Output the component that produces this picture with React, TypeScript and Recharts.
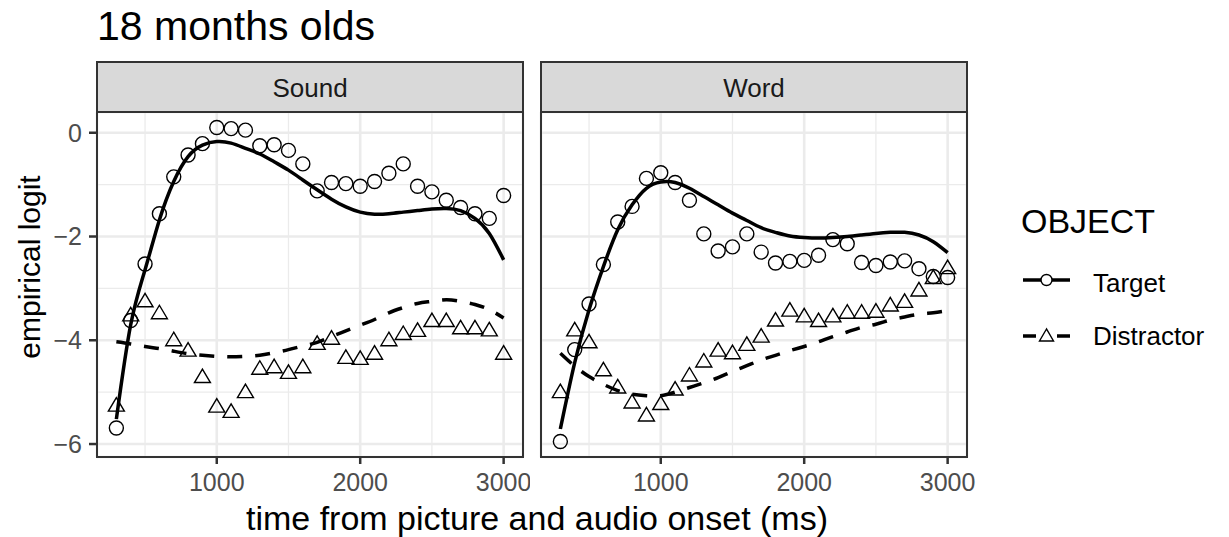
import React from 'react';
import { ComposedChart, Scatter, Line, XAxis, YAxis, CartesianGrid, ReferenceLine } from 'recharts';

const FONT = '"Liberation Sans", Arial, Helvetica, sans-serif';

// time points (ms)
const times = [300, 400, 500, 600, 700, 800, 900, 1000, 1100, 1200, 1300, 1400, 1500, 1600, 1700, 1800, 1900, 2000, 2100, 2200, 2300, 2400, 2500, 2600, 2700, 2800, 2900, 3000];

// Sound facet
const soundTarget = [-5.69, -3.62, -2.53, -1.56, -0.85, -0.43, -0.21, 0.1, 0.08, 0.05, -0.25, -0.23, -0.34, -0.6, -1.12, -0.96, -0.98, -1.03, -0.94, -0.78, -0.6, -1.03, -1.14, -1.3, -1.44, -1.56, -1.65, -1.21];
const soundDistractor = [-5.24, -3.5, -3.23, -3.46, -3.98, -4.18, -4.69, -5.26, -5.36, -4.98, -4.53, -4.5, -4.61, -4.5, -4.05, -3.95, -4.32, -4.34, -4.24, -3.98, -3.86, -3.8, -3.61, -3.61, -3.75, -3.75, -3.79, -4.24];
const soundTargetFit = [-5.52, -3.7, -2.64, -1.68, -0.94, -0.46, -0.24, -0.17, -0.2, -0.3, -0.41, -0.56, -0.72, -0.91, -1.1, -1.28, -1.43, -1.53, -1.57, -1.56, -1.53, -1.5, -1.47, -1.46, -1.5, -1.65, -1.94, -2.45];
const soundDistractorFit = [-4.03, -4.07, -4.12, -4.16, -4.21, -4.26, -4.29, -4.31, -4.32, -4.31, -4.29, -4.24, -4.18, -4.11, -4.04, -3.93, -3.82, -3.71, -3.6, -3.47, -3.37, -3.29, -3.25, -3.22, -3.25, -3.31, -3.41, -3.57];

// Word facet
const wordTarget = [-5.95, -4.18, -3.3, -2.54, -1.72, -1.42, -0.88, -0.77, -0.96, -1.3, -1.95, -2.28, -2.2, -1.95, -2.3, -2.51, -2.48, -2.46, -2.36, -2.06, -2.14, -2.5, -2.56, -2.49, -2.47, -2.62, -2.77, -2.79];
const wordDistractor = [-4.98, -3.79, -4.02, -4.56, -4.89, -5.18, -5.43, -5.21, -4.93, -4.66, -4.39, -4.18, -4.23, -4.07, -3.91, -3.6, -3.41, -3.52, -3.61, -3.52, -3.45, -3.45, -3.43, -3.31, -3.24, -3.02, -2.78, -2.59];
const wordTargetFit = [-5.71, -4.43, -3.41, -2.58, -1.87, -1.39, -1.07, -0.95, -0.96, -1.07, -1.23, -1.39, -1.55, -1.69, -1.83, -1.92, -1.99, -2.02, -2.03, -2.02, -2.0, -1.97, -1.94, -1.92, -1.92, -1.97, -2.1, -2.31];
const wordDistractorFit = [-4.25, -4.5, -4.7, -4.85, -4.97, -5.04, -5.07, -5.07, -5.0, -4.91, -4.82, -4.72, -4.6, -4.49, -4.38, -4.29, -4.2, -4.12, -4.03, -3.93, -3.84, -3.75, -3.69, -3.61, -3.55, -3.5, -3.47, -3.43];

// axes
const xTicks = [1000, 2000, 3000];
const xMinor = [500, 1500, 2500];
const yTicks = [-6, -4, -2, 0];
const yMinor = [-5, -3, -1];
const xDomain = [165, 3135];
const yDomain = [-6.25, 0.4];

const facetLabels = ['Sound', 'Word'];
const legendTitle = 'OBJECT';
const legendLabels = ['Target', 'Distractor'];
const titleText = '18 months olds';
const xTitle = 'time from picture and audio onset (ms)';
const yTitle = 'empirical logit';

const toPts = (vals: number[]) => times.map((t, i) => ({ t, v: vals[i] }));

const CircleShape = (p: any) => (
  <circle cx={p.cx} cy={p.cy} r={7} fill="none" stroke="#000" strokeWidth={1.4} />
);
const TriShape = (p: any) => {
  const { cx, cy } = p;
  return (
    <polygon
      points={`${cx},${cy - 7} ${cx - 8},${cy + 6.5} ${cx + 8},${cy + 6.5}`}
      fill="none"
      stroke="#000"
      strokeWidth={1.4}
    />
  );
};

const fmtY = (v: number) => String(v).replace('-', '\u2212');

type PanelProps = {
  left: number;
  width: number;
  ml: number;
  mr: number;
  showY: boolean;
  target: number[];
  distractor: number[];
  targetFit: number[];
  distractorFit: number[];
};

function Panel({ left, width, ml, mr, showY, target, distractor, targetFit, distractorFit }: PanelProps) {
  return (
    <div style={{ position: 'absolute', left, top: 0 }}>
      <ComposedChart width={width} height={537} margin={{ top: 112, right: mr, bottom: 0, left: ml }} style={{ overflow: 'visible' }}>
        <CartesianGrid stroke="#EBEBEB" strokeWidth={2.6} />
        {yMinor.map((v) => (
          <ReferenceLine key={'ym' + v} y={v} stroke="#EBEBEB" strokeWidth={1.3} />
        ))}
        {xMinor.map((v) => (
          <ReferenceLine key={'xm' + v} x={v} stroke="#EBEBEB" strokeWidth={1.3} />
        ))}
        <XAxis
          type="number"
          dataKey="t"
          domain={xDomain}
          allowDataOverflow
          ticks={xTicks}
          interval={0}
          height={80}
          tickSize={7}
          tickMargin={9}
          axisLine={false}
          tickLine={{ stroke: '#333333', strokeWidth: 2.5 }}
          tick={{ fill: '#4D4D4D', fontSize: 25, fontFamily: FONT }}
        />
        <YAxis
          type="number"
          dataKey="v"
          domain={yDomain}
          allowDataOverflow
          ticks={yTicks}
          interval={0}
          hide={!showY}
          width={showY ? 97 : 0}
          tickSize={8}
          tickMargin={7}
          axisLine={false}
          tickLine={{ stroke: '#333333', strokeWidth: 2.5 }}
          tick={{ fill: '#4D4D4D', fontSize: 25, fontFamily: FONT }}
          tickFormatter={fmtY}
        />
        <Scatter data={toPts(target)} shape={CircleShape} isAnimationActive={false} />
        <Scatter data={toPts(distractor)} shape={TriShape} isAnimationActive={false} />
        <Line
          data={toPts(targetFit)}
          dataKey="v"
          type="natural"
          stroke="#000"
          strokeWidth={3.5}
          dot={false}
          activeDot={false}
          isAnimationActive={false}
        />
        <Line
          data={toPts(distractorFit)}
          dataKey="v"
          type="natural"
          stroke="#000"
          strokeWidth={3.5}
          strokeDasharray="15 13"
          dot={false}
          activeDot={false}
          isAnimationActive={false}
        />
      </ComposedChart>
    </div>
  );
}

export default function App() {
  const panels = [
    { x0: 97, x1: 523 },
    { x0: 541, x1: 967 },
  ];
  return (
    <div style={{ position: 'absolute', left: 0, top: 0, width: 1229, height: 537, background: '#fff', fontFamily: FONT, overflow: 'hidden' }}>
      <Panel
        left={0}
        width={530}
        ml={0}
        mr={7}
        showY={true}
        target={soundTarget}
        distractor={soundDistractor}
        targetFit={soundTargetFit}
        distractorFit={soundDistractorFit}
      />
      <Panel
        left={530}
        width={490}
        ml={11}
        mr={53}
        showY={false}
        target={wordTarget}
        distractor={wordDistractor}
        targetFit={wordTargetFit}
        distractorFit={wordDistractorFit}
      />
      <svg
        width={1229}
        height={537}
        style={{ position: 'absolute', left: 0, top: 0, pointerEvents: 'none' }}
        fontFamily={FONT}
      >
        <text x={97} y={40} fontSize={41} fill="#000">{titleText}</text>
        {panels.map((p, i) => (
          <g key={i}>
            <rect x={p.x0} y={62} width={p.x1 - p.x0} height={50} fill="#D9D9D9" stroke="#333333" strokeWidth={2} />
            <text x={(p.x0 + p.x1) / 2} y={96.5} fontSize={26} fill="#1A1A1A" textAnchor="middle">{facetLabels[i]}</text>
            <rect x={p.x0} y={112} width={p.x1 - p.x0} height={345} fill="none" stroke="#333333" strokeWidth={2} />
          </g>
        ))}
        <text x={537} y={530} fontSize={34} fill="#000" textAnchor="middle">{xTitle}</text>
        <text x={0} y={0} fontSize={30} fill="#000" textAnchor="middle" transform="translate(40 267) rotate(-90)">{yTitle}</text>
        {/* legend */}
        <text x={1021} y={233} fontSize={34} fill="#000">{legendTitle}</text>
        <line x1={1023} x2={1070} y1={280} y2={280} stroke="#000" strokeWidth={3.5} />
        <circle cx={1046.5} cy={280} r={5.5} fill="#fff" stroke="#000" strokeWidth={1.4} />
        <text x={1093} y={291.5} fontSize={26} fill="#000">{legendLabels[0]}</text>
        <line x1={1023} x2={1070} y1={336} y2={336} stroke="#000" strokeWidth={3.5} strokeDasharray="13 21" />
        <polygon points="1046.5,329 1039.5,341 1053.5,341" fill="#fff" stroke="#000" strokeWidth={1.4} />
        <text x={1093} y={345} fontSize={26} fill="#000">{legendLabels[1]}</text>
      </svg>
    </div>
  );
}
